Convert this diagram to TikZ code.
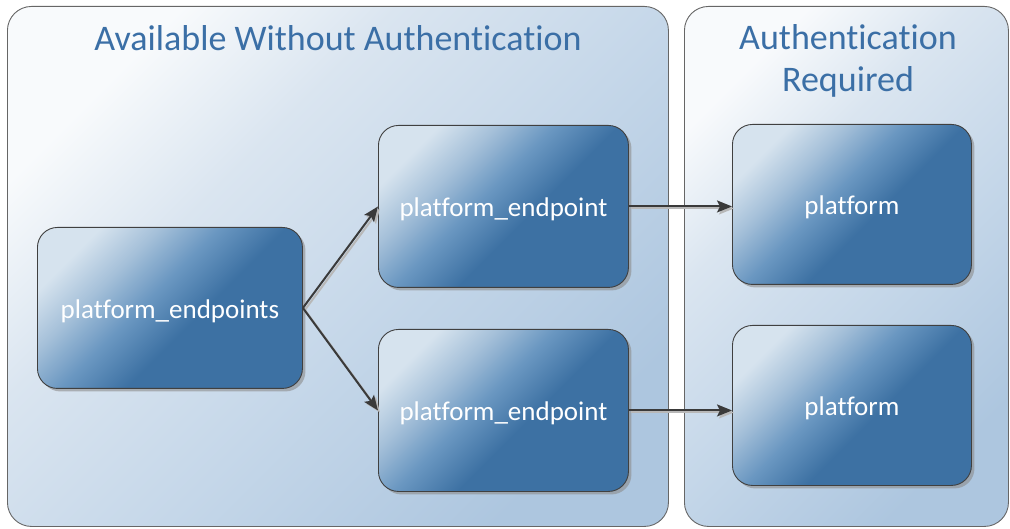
\documentclass[tikz,border=0pt]{standalone}
\usepackage{fontspec}
\setmainfont{Carlito}[Ligatures={NoCommon}]
\usetikzlibrary{shadows,arrows.meta,calc}
\definecolor{ndark}{HTML}{3D71A3}
\definecolor{nmid}{HTML}{6A97C1}
\definecolor{nmidl}{HTML}{A5C0D9}
\definecolor{nlight}{HTML}{D6E3EE}
\definecolor{clight}{HTML}{F8FAFC}
\definecolor{cmidl}{HTML}{DAE5F0}
\definecolor{cmid}{HTML}{C5D7E9}
\definecolor{cdark}{HTML}{ADC6DF}
\definecolor{titleblue}{HTML}{3B6FA6}
\definecolor{arrowgray}{HTML}{3A3A3A}
\pgfdeclareverticalshading{nodeshade}{100bp}{color(0bp)=(ndark); color(25bp)=(ndark); color(44bp)=(ndark); color(55bp)=(nmid); color(65bp)=(nmidl); color(75bp)=(nlight); color(100bp)=(nlight)}
\pgfdeclareverticalshading{contshade}{100bp}{color(0bp)=(cdark); color(25bp)=(cdark); color(45bp)=(cmid); color(62bp)=(cmidl); color(75bp)=(clight); color(100bp)=(clight)}
\tikzset{
  container/.style={draw=black!60, line width=0.9pt, rounded corners=24pt, shading=contshade, shading angle=45, inner sep=0pt, anchor=north west},
  box/.style={draw=black!75, line width=0.9pt, rounded corners=20pt, shading=nodeshade, shading angle=45, inner sep=0pt, anchor=north west, text=white, font=\fontsize{27}{32}\selectfont, text height=23pt, text depth=2.3pt, drop shadow={shadow xshift=3pt, shadow yshift=-3pt, fill=black!45, opacity=0.6}},
  grouptitle/.style={text=titleblue, font=\fontsize{36}{42}\selectfont, align=center},
  arr/.style={draw=arrowgray, line width=2pt, -{Stealth[length=15pt, width=12pt, inset=3pt]}},
  arrsh/.style={draw=black!28, line width=2pt, -{Stealth[length=15pt, width=12pt, inset=3pt]}, transform canvas={xshift=2pt, yshift=-2pt}}
}
\begin{document}
\begin{tikzpicture}[x=1pt, y=-1pt]
\useasboundingbox (0,0) rectangle (1010,529);
\node[container, minimum width=661pt, minimum height=520pt] (gl) at (7,6) {};
\node[container, minimum width=324pt, minimum height=520pt] (gr) at (684,6) {};
\node[grouptitle] (tl) at (338,38) {Available Without Authentication};
\node[grouptitle] (tr) at (848,61) {Authentication\\Required};
\node[box, minimum width=265pt, minimum height=161pt] (ep) at (37,227) {platform\_endpoints};
\node[box, minimum width=250pt, minimum height=162pt] (e1) at (378,125) {platform\_endpoint};
\node[box, minimum width=250pt, minimum height=162pt] (e2) at (378,329) {platform\_endpoint};
\node[box, minimum width=239pt, minimum height=160pt] (p1) at (732,124) {platform};
\node[box, minimum width=239pt, minimum height=160pt] (p2) at (732,325) {platform};
\draw[arrsh] (ep.east) -- (e1.west);
\draw[arrsh] (ep.east) -- (e2.west);
\draw[arrsh] (e1.east) -- (e1.east -| p1.west);
\draw[arrsh] (e2.east) -- (e2.east -| p2.west);
\draw[arr] (ep.east) -- (e1.west);
\draw[arr] (ep.east) -- (e2.west);
\draw[arr] (e1.east) -- (e1.east -| p1.west);
\draw[arr] (e2.east) -- (e2.east -| p2.west);
\end{tikzpicture}
\end{document}
